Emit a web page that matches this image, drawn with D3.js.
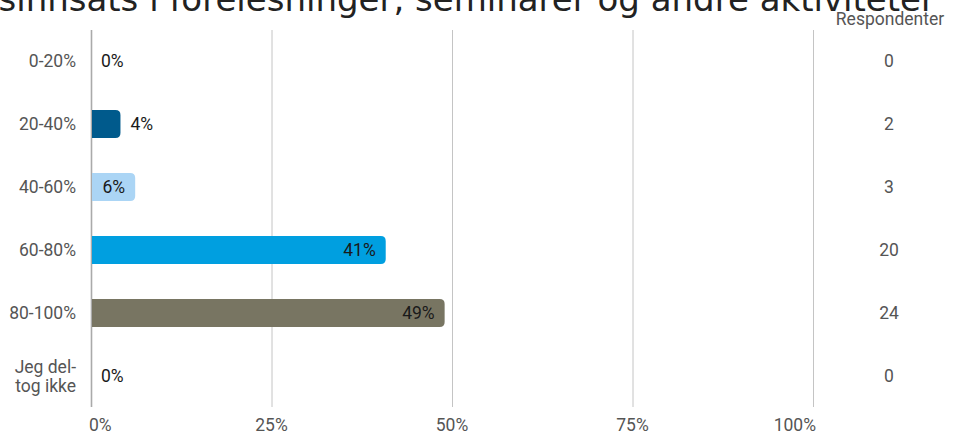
<!DOCTYPE html>
<html>
<head>
  <meta charset="utf-8">
  <script src="https://d3js.org/d3.v7.min.js"></script>
  <style>
    body { margin: 0; background: #fff; }
    text { font-family: Roboto, sans-serif; }
  </style>
</head>
<body>
<div id="chart"></div>
<script>
  // data
  const categories = ["0-20%", "20-40%", "40-60%", "60-80%", "80-100%", "Jeg del-\ntog ikke"];
  const percents = [0, 4.08, 6.12, 40.82, 48.98, 0];
  const labels = ["0%", "4%", "6%", "41%", "49%", "0%"];
  const respondents = [0, 2, 3, 20, 24, 0];
  const colors = ["#005a8c", "#005a8c", "#abd5f5", "#009fe0", "#787562", "#787562"];
  const xTicks = [0, 25, 50, 75, 100];

  const width = 960, height = 434;
  const fs = "17.5px";
  const svg = d3.select("#chart").append("svg")
      .attr("width", width)
      .attr("height", height);

  const xScale = d3.scaleLinear().domain([0, 100]).range([91, 813]);
  const yScale = d3.scalePoint().domain(d3.range(categories.length)).range([29.5, 407.5]).padding(0.5);
  const barH = 28;

  // title (clipped on the left like the original)
  svg.append("text")
     .attr("x", 935)
     .attr("y", 11)
     .attr("text-anchor", "end")
     .style("font-family", "'DejaVu Sans', sans-serif")
     .style("font-size", "34px")
     .attr("fill", "#222")
     .text("Arbeidsinnsats i forelesninger, seminarer og andre aktiviteter");

  // gridlines
  const grid = d3.axisBottom(xScale)
      .tickValues(xTicks)
      .tickSize(377)
      .tickFormat("");
  const gridG = svg.append("g")
      .attr("transform", "translate(0,30)")
      .call(grid);
  gridG.select(".domain").remove();
  gridG.selectAll("line")
      .attr("stroke", d => d === 0 ? "#aaa" : "#c4c4c4")
      .attr("stroke-width", d => d === 0 ? 1.6 : 1);

  // tick labels
  svg.selectAll(".xlab")
     .data(xTicks)
     .join("text")
     .attr("x", (d, i) => xScale(d) + (i === 0 ? -2 : i === xTicks.length - 1 ? 3 : 0))
     .attr("y", 431)
     .attr("text-anchor", (d, i) => i === 0 ? "start" : i === xTicks.length - 1 ? "end" : "middle")
     .attr("fill", "#555")
     .style("font-size", fs)
     .text(d => d + "%");

  // bars with rounded right end
  function barPath(x0, x1, yc) {
    const w = x1 - x0;
    if (w <= 0) return "";
    const r = Math.min(5, w / 2);
    const t = yc - barH / 2, b = yc + barH / 2;
    return `M${x0},${t}H${x1 - r}Q${x1},${t} ${x1},${t + r}V${b - r}Q${x1},${b} ${x1 - r},${b}H${x0}Z`;
  }
  svg.selectAll(".bar")
     .data(percents)
     .join("path")
     .attr("d", (d, i) => barPath(xScale(0) + 1, xScale(d), yScale(i)))
     .attr("fill", (d, i) => colors[i]);

  // value labels
  svg.selectAll(".val")
     .data(percents)
     .join("text")
     .attr("y", (d, i) => yScale(i) + 6)
     .attr("fill", "#1a1a1a")
     .style("font-size", fs)
     .text((d, i) => labels[i])
     .each(function(d, i) {
       const tw = this.getComputedTextLength();
       const end = xScale(d);
       const bw = end - xScale(0);
       if (bw >= tw + 18) {
         d3.select(this).attr("x", end - 10).attr("text-anchor", "end");
       } else {
         d3.select(this).attr("x", end + 10).attr("text-anchor", "start");
       }
     });

  // category labels
  svg.selectAll(".cat")
     .data(categories)
     .join("text")
     .attr("text-anchor", "end")
     .attr("fill", "#555")
     .style("font-size", fs)
     .each(function(d, i) {
       const lines = d.split("\n");
       const t = d3.select(this);
       const y0 = yScale(i) + 6 - (lines.length - 1) * 9.5;
       lines.forEach((l, j) => {
         t.append("tspan").attr("x", 76).attr("y", y0 + j * 19).text(l);
       });
     });

  // respondents column
  svg.append("text")
     .attr("x", 890)
     .attr("y", 25)
     .attr("text-anchor", "middle")
     .attr("fill", "#555")
     .style("font-size", fs)
     .text("Respondenter");

  svg.selectAll(".resp")
     .data(respondents)
     .join("text")
     .attr("x", 889)
     .attr("y", (d, i) => yScale(i) + 6)
     .attr("text-anchor", "middle")
     .attr("fill", "#555")
     .style("font-size", fs)
     .text(d => d);
</script>
</body>
</html>
